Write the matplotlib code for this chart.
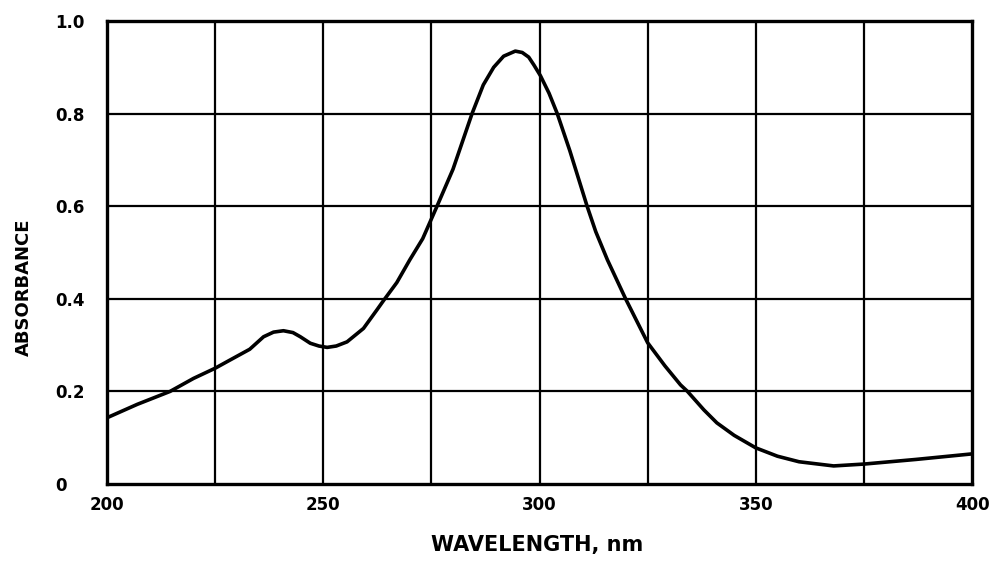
import numpy as np
import matplotlib
matplotlib.use("Agg")
import matplotlib.pyplot as plt

# absorption spectrum
wavelength = [200, 207, 214.6, 220, 225, 228.5, 233, 236.2, 238.5, 240.8,
              243, 244.7, 247, 249, 250.9, 253, 255.5, 259.3, 262.4, 264, 267,
              270, 273, 276.3, 280, 284.4, 287, 289.4, 291.7, 294.4, 296,
              297.5, 298.7, 300.2, 302.2, 304.1, 307, 311, 313, 315.7, 319.9,
              325, 329, 332.6, 334.2, 338, 341, 345, 350, 355, 360, 368, 375,
              387, 400]
absorbance = [0.143, 0.172, 0.2, 0.228, 0.25, 0.268, 0.291, 0.318, 0.328,
              0.331, 0.327, 0.318, 0.304, 0.298, 0.295, 0.298, 0.307, 0.336,
              0.376, 0.397, 0.435, 0.484, 0.53, 0.6, 0.68, 0.8, 0.862, 0.90,
              0.924, 0.935, 0.932, 0.922, 0.905, 0.882, 0.844, 0.80, 0.72,
              0.60, 0.545, 0.484, 0.40, 0.305, 0.255, 0.214, 0.20, 0.16,
              0.132, 0.105, 0.078, 0.06, 0.048, 0.039, 0.043, 0.053, 0.065]

x_ticks = [200, 250, 300, 350, 400]
x_grid = [225, 250, 275, 300, 325, 350, 375]
y_ticks = [0, 0.2, 0.4, 0.6, 0.8, 1.0]
y_labels = ['0', '0.2', '0.4', '0.6', '0.8', '1.0']

fig = plt.figure(figsize=(9.97, 5.71), dpi=100)
ax = fig.add_axes([0.1073, 0.1524, 0.8677, 0.8108])

# grid lines drawn by hand so they sit every 25 nm
for g in x_grid:
    ax.axvline(g, color='black', lw=1.6, zorder=1)
for g in y_ticks[1:-1]:
    ax.axhline(g, color='black', lw=1.6, zorder=1)

ax.plot(wavelength, absorbance, color='black', lw=2.6, solid_capstyle='round',
        solid_joinstyle='round', zorder=3)

ax.set_xlim(200, 400)
ax.set_ylim(0, 1.0)
ax.set_xticks(x_ticks)
ax.set_yticks(y_ticks)
ax.set_yticklabels(y_labels)
ax.tick_params(axis='both', length=0, labelsize=12)
ax.tick_params(axis='x', pad=9)
ax.tick_params(axis='y', pad=37)
for lab in ax.get_yticklabels():
    lab.set_horizontalalignment('left')
    lab.set_fontweight('bold')
for lab in ax.get_xticklabels():
    lab.set_fontweight('bold')

for sp in ax.spines.values():
    sp.set_linewidth(2.4)

ax.set_xlabel('WAVELENGTH, nm', fontsize=15, fontweight='bold')
ax.xaxis.set_label_coords(0.497, -0.132)
ax.xaxis.label.set_va('center')
ax.set_ylabel('ABSORBANCE', fontsize=13, fontweight='bold')
ax.yaxis.set_label_coords(-0.096, 0.425)
ax.yaxis.label.set_va('center')

fig.savefig('out.png', dpi=100)
